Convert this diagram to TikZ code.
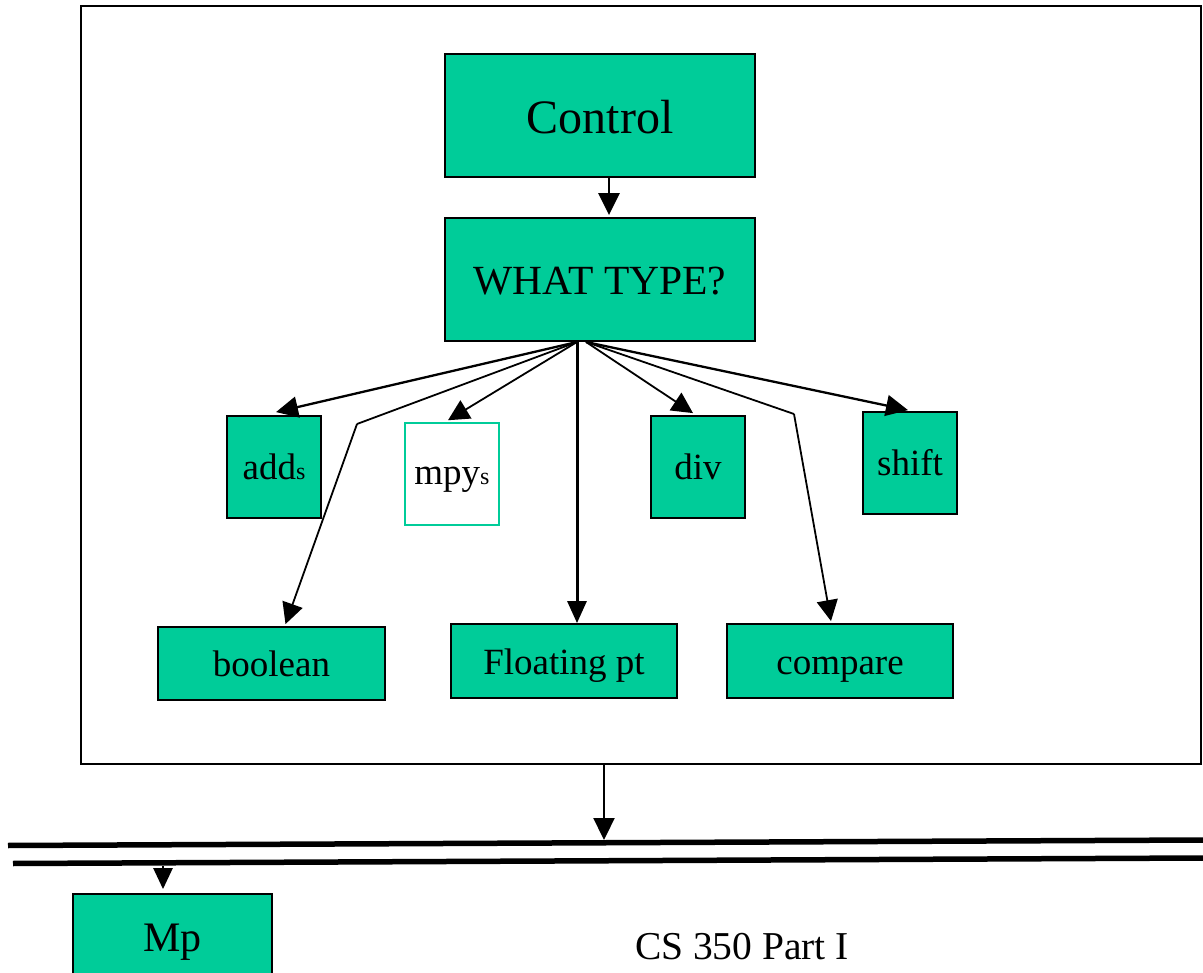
\documentclass[tikz,border=0pt]{standalone}
\usepackage{fontspec}
\setmainfont{Liberation Serif}
\usetikzlibrary{arrows.meta,calc}
\definecolor{boxgreen}{RGB}{0,204,153}
\begin{document}
\begin{tikzpicture}[x=1pt,y=-1pt,
  unit/.style={draw=black, line width=1.8pt, fill=boxgreen, inner sep=0pt, text=black},
  hollow/.style={draw=boxgreen, line width=1.5pt, fill=white, inner sep=0pt, text=black},
  lbl/.style={font=\fontsize{37}{40}\selectfont, text height=26pt, text depth=0pt},
  arr/.style={-{Triangle[length=22pt,width=21pt]}, line width=2.3pt},
  thinarr/.style={-{Triangle[length=21pt,width=21pt]}, line width=1.8pt},
  thinline/.style={line width=1.8pt},
  bus/.style={line width=5.5pt}
]
\useasboundingbox (0,0) rectangle (1203,973);

% enclosing frame of the processor
\node[draw=black, line width=2pt, minimum width=1120pt, minimum height=758pt, inner sep=0pt] (frame) at (641,385) {};

% control path
\node[unit, minimum width=310pt, minimum height=123pt, font=\fontsize{48}{52}\selectfont, text height=37pt, text depth=0pt] (ctl) at (600,115.5) {Control};
\node[unit, minimum width=310pt, minimum height=123pt, font=\fontsize{41.5}{46}\selectfont, text height=31pt, text depth=0pt] (what) at (600,279.5) {WHAT TYPE?};

% operation units
\node[unit, lbl, minimum width=94pt, minimum height=102pt] (adds) at (274,467) {add{\fontsize{24}{26}\selectfont s}};
\node[hollow, lbl, text height=22pt, minimum width=94pt, minimum height=102pt] (mpys) at (452,474) {mpy{\fontsize{24}{26}\selectfont s}};
\node[unit, lbl, minimum width=94pt, minimum height=102pt] (div) at (698,467) {div};
\node[unit, lbl, minimum width=94pt, minimum height=102pt] (shift) at (910,463) {shift};
\node[unit, lbl, minimum width=227pt, minimum height=73pt] (bool) at (271.5,663.5) {boolean};
\node[unit, lbl, minimum width=226pt, minimum height=74pt] (flt) at (564,661) {Floating pt};
\node[unit, lbl, minimum width=226pt, minimum height=74pt] (cmp) at (840,661) {compare};

% memory and caption
\node[unit, minimum width=199pt, minimum height=86pt, font=\fontsize{42}{46}\selectfont, text height=28pt, text depth=0pt] (mp) at (172.5,937) {Mp};
\node[font=\fontsize{39.5}{44}\selectfont, anchor=base] (cap) at (742,959) {CS 350 Part I};

% fan-out points under WHAT TYPE?
\coordinate (srcL) at (577,342);
\coordinate (srcR) at (586,342);
\coordinate (bendB) at (357,424);
\coordinate (bendC) at (794,414);

% control to decoder
\draw[arr, line width=2.8pt] ($(ctl.south)+(9,0)$) -- ($(what.north)+(9,-2)$);

% decoder to units
\draw[arr] (srcL) -- ($(adds.north)+(2,-3)$);
\draw[thinarr] (srcL) -- ($(mpys.north)+(-4,-2)$);
\draw[thinline] (srcL) -- (bendB);
\draw[thinarr] (bendB) -- ($(bool.north)+(14,-2)$);
\draw[-{Triangle[length=22pt,width=19pt]}, line width=3pt] (srcL) -- (srcL |- flt.north);
\draw[thinarr] (srcR) -- ($(div.north)+(-5,-2)$);
\draw[thinline] (srcR) -- (bendC);
\draw[thinarr] (bendC) -- ($(cmp.north)+(-9,-2)$);
\draw[arr] (srcR) -- ($(shift.north)+(-2,-1)$);

% system bus
\coordinate (b1l) at (8,845.5);
\coordinate (b1r) at (1203,840);
\coordinate (b2l) at (13,863.5);
\coordinate (b2r) at (1203,858);
\draw[bus] (b1l) -- (b1r);
\draw[bus] (b2l) -- (b2r);

% frame to bus, bus to memory
\coordinate (busin) at (604,840);
\coordinate (busout) at (163,866);
\coordinate (mpin) at ($(busout |- mp.north)+(0,-4)$);
\draw[arr] (frame.south -| busin) -- (busin);
\draw[-{Triangle[length=21pt,width=19pt]}, line width=2.6pt] (busout) -- (mpin);
\end{tikzpicture}
\end{document}
